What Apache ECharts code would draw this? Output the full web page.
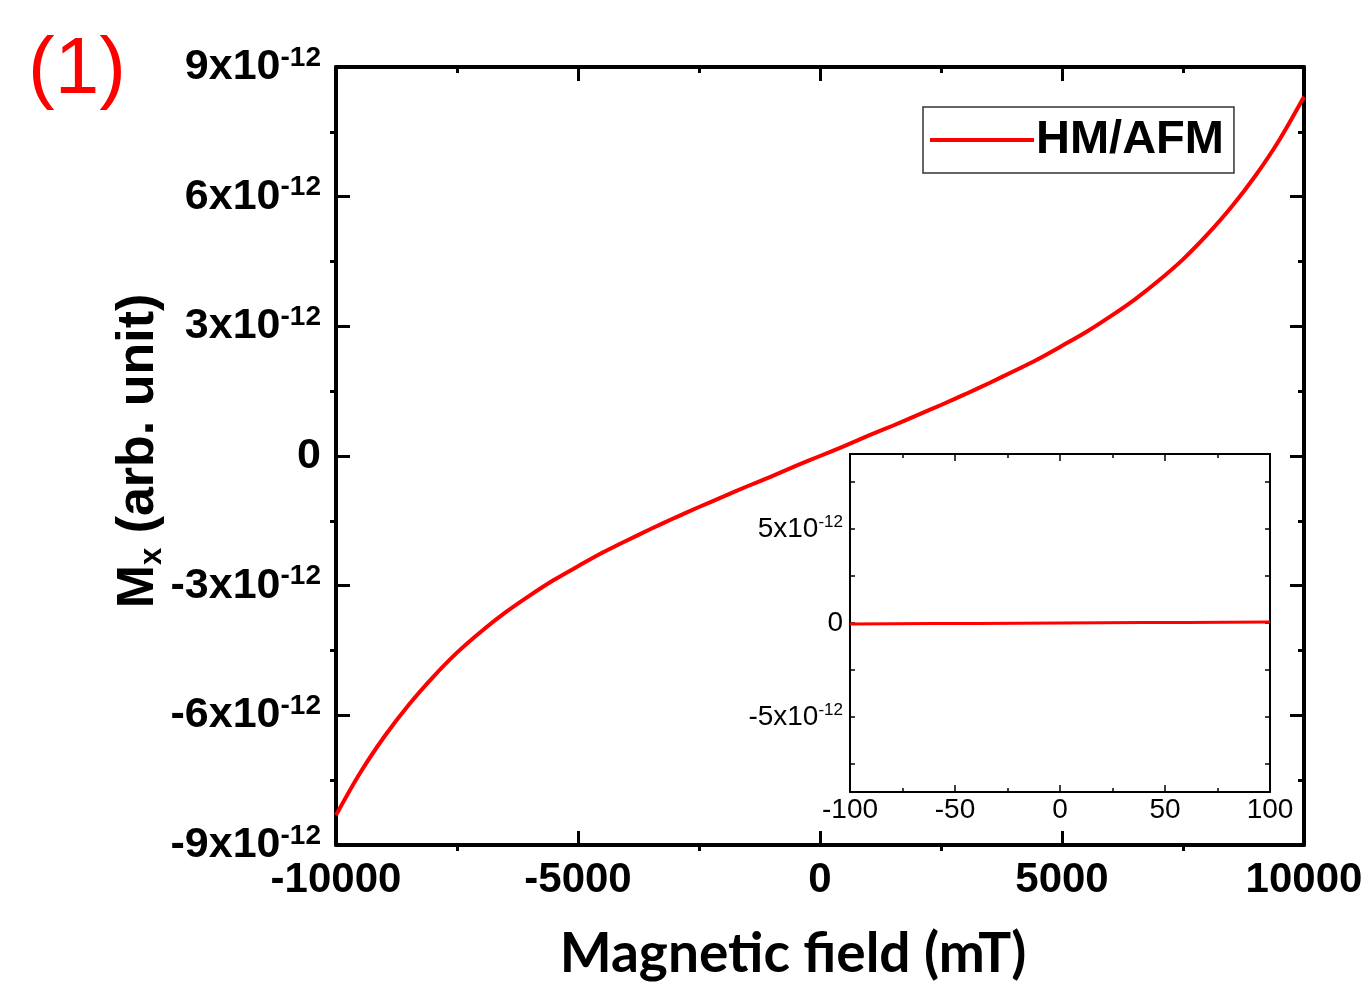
<!DOCTYPE html>
<html>
<head>
<meta charset="utf-8">
<script src="https://cdn.jsdelivr.net/npm/echarts@6/dist/echarts.min.js"></script>
<style>
  html, body { margin: 0; padding: 0; background: #fff; }
  #chart { width: 1363px; height: 984px; }
</style>
</head>
<body>
<div id="chart"></div>
<script>
// Magnetic field sweep (mT) and M_x response, in units of 1e-12 (arb. unit)
const fieldMT = [-10000, -9500, -9000, -8500, -8000, -7500, -7000, -6500, -6000, -5500,
  -5000, -4500, -4000, -3500, -3000, -2500, -2000, -1500, -1000, -500, 0,
  500, 1000, 1500, 2000, 2500, 3000, 3500, 4000, 4500, 5000,
  5500, 6000, 6500, 7000, 7500, 8000, 8500, 9000, 9500, 10000];
const mxMain = [-8.31, -7.33, -6.49, -5.76, -5.12, -4.55, -4.06, -3.62, -3.23, -2.87,
  -2.55, -2.24, -1.96, -1.69, -1.43, -1.18, -0.94, -0.70, -0.47, -0.23, 0,
  0.23, 0.47, 0.70, 0.94, 1.18, 1.43, 1.69, 1.96, 2.24, 2.55,
  2.87, 3.23, 3.62, 4.06, 4.55, 5.12, 5.76, 6.49, 7.33, 8.31];

// Low-field zoom (inset)
const fieldLow = [-100, -80, -60, -40, -20, 0, 20, 40, 60, 80, 100];
const mxLow = [-0.05, -0.04, -0.03, -0.02, -0.01, 0, 0.01, 0.02, 0.03, 0.04, 0.05];

const seriesName = 'HM/AFM';
const insetYLabels = [-5, 0, 5];
const insetYTicks = [-7.5, -5, -2.5, 0, 2.5, 5, 7.5];

const ARIAL = '"Liberation Sans", Arial, sans-serif';
const RED = '#ff0000';

const pair = (xs, ys) => xs.map((x, i) => [x, ys[i]]);
const plain = (v) => String(v);

function sciLabel(v) {
  if (v === 0) return '{b|0}';
  return '{b|' + v + 'x10}{s|-12}';
}

const mainRich = {
  b: { fontFamily: ARIAL, fontWeight: 'bold', fontSize: 43, lineHeight: 46, color: '#000' },
  s: { fontFamily: ARIAL, fontWeight: 'bold', fontSize: 28, lineHeight: 27, verticalAlign: 'top', color: '#000' }
};
const insetRich = {
  b: { fontFamily: ARIAL, fontSize: 28, lineHeight: 30, color: '#000' },
  s: { fontFamily: ARIAL, fontSize: 17, lineHeight: 17, verticalAlign: 'top', color: '#000' }
};

const axisLineMain = { show: true, onZero: false, lineStyle: { color: '#000', width: 4 } };
const axisLineInset = { show: true, onZero: false, lineStyle: { color: '#000', width: 2 } };

const option = {
  backgroundColor: '#fff',
  animation: false,
  graphic: [{
    type: 'text', left: 28, top: 31,
    style: { text: '(1)', fill: RED, font: '80px ' + ARIAL }
  }],
  legend: {
    data: [seriesName],
    left: 923, top: 107,
    orient: 'horizontal',
    icon: 'rect',
    itemWidth: 104, itemHeight: 4,
    padding: [8, 10, 8, 7],
    borderColor: '#333', borderWidth: 1.5,
    backgroundColor: '#fff',
    textStyle: { fontFamily: ARIAL, fontWeight: 'bold', fontSize: 47, lineHeight: 50, color: '#000', padding: [0, 0, 0, -3] }
  },
  grid: [
    { left: 336, top: 67, right: 59, bottom: 139, containLabel: false, outerBoundsMode: 'none' },
    { left: 850, top: 454, width: 420, height: 338, containLabel: false, outerBoundsMode: 'none',
      show: true, backgroundColor: '#fff', borderWidth: 0 }
  ],
  xAxis: [
    { // main bottom: labels + inward major ticks
      type: 'value', gridIndex: 0, position: 'bottom', min: -10000, max: 10000, interval: 5000,
      axisLine: axisLineMain,
      axisTick: { show: true, inside: true, length: 14, lineStyle: { color: '#000', width: 3 } },
      axisLabel: { margin: 14, formatter: plain, fontFamily: ARIAL, fontWeight: 'bold', fontSize: 42, color: '#000' },
      splitLine: { show: false },
      name: 'Magnetic field (mT)', nameLocation: 'middle', nameGap: 82, nameMoveOverlap: false,
      nameTextStyle: { fontFamily: 'Lato, "Open Sans", sans-serif', fontWeight: 'bold', fontSize: 55, color: '#000', padding: [0, 54, 0, 0] }
    },
    { // main bottom: outward minor ticks
      type: 'value', gridIndex: 0, position: 'bottom', min: -10000, max: 10000, interval: 5000,
      axisLine: { show: false, onZero: false },
      axisTick: { show: true, inside: false, length: 0 },
      minorTick: { show: true, splitNumber: 2, length: 6, lineStyle: { color: '#000', width: 3 } },
      axisLabel: { show: false }, splitLine: { show: false }
    },
    { // main top
      type: 'value', gridIndex: 0, position: 'top', min: -10000, max: 10000, interval: 5000,
      axisLine: axisLineMain,
      axisTick: { show: true, inside: true, length: 14, lineStyle: { color: '#000', width: 3 } },
      minorTick: { show: true, splitNumber: 2, length: 6, lineStyle: { color: '#000', width: 3 } },
      axisLabel: { show: false }, splitLine: { show: false }
    },
    { // inset bottom
      type: 'value', gridIndex: 1, position: 'bottom', min: -100, max: 100, interval: 50,
      axisLine: axisLineInset,
      axisTick: { show: true, inside: true, length: 7, lineStyle: { color: '#000', width: 1.5 } },
      minorTick: { show: true, splitNumber: 2, length: 4, lineStyle: { color: '#000', width: 1.5 } },
      axisLabel: { margin: 4, formatter: plain, fontFamily: ARIAL, fontSize: 28, color: '#000' },
      splitLine: { show: false }
    },
    { // inset top
      type: 'value', gridIndex: 1, position: 'top', min: -100, max: 100, interval: 50,
      axisLine: axisLineInset,
      axisTick: { show: true, inside: true, length: 7, lineStyle: { color: '#000', width: 1.5 } },
      minorTick: { show: true, splitNumber: 2, length: 4, lineStyle: { color: '#000', width: 1.5 } },
      axisLabel: { show: false }, splitLine: { show: false }
    }
  ],
  yAxis: [
    { // main left: labels + inward major ticks
      type: 'value', gridIndex: 0, position: 'left', min: -9, max: 9, interval: 3,
      axisLine: axisLineMain,
      axisTick: { show: true, inside: true, length: 14, lineStyle: { color: '#000', width: 3 } },
      axisLabel: { margin: 15, formatter: sciLabel, rich: mainRich },
      splitLine: { show: false },
      name: '{m|M}{x|x}{r| (arb. unit)}', nameLocation: 'middle', nameGap: 168, nameRotate: 90,
      nameMoveOverlap: false,
      nameTextStyle: {
        padding: [0, 0, 0, 10],
        rich: {
          m: { fontFamily: ARIAL, fontWeight: 'bold', fontSize: 52, lineHeight: 58, color: '#000' },
          x: { fontFamily: ARIAL, fontWeight: 'bold', fontSize: 31, lineHeight: 31, verticalAlign: 'bottom', color: '#000' },
          r: { fontFamily: ARIAL, fontWeight: 'bold', fontSize: 52, lineHeight: 58, color: '#000' }
        }
      }
    },
    { // main left: outward minor ticks
      type: 'value', gridIndex: 0, position: 'left', min: -9, max: 9, interval: 3,
      axisLine: { show: false, onZero: false },
      axisTick: { show: true, inside: false, length: 0 },
      minorTick: { show: true, splitNumber: 2, length: 6, lineStyle: { color: '#000', width: 3 } },
      axisLabel: { show: false }, splitLine: { show: false }
    },
    { // main right
      type: 'value', gridIndex: 0, position: 'right', min: -9, max: 9, interval: 3,
      axisLine: axisLineMain,
      axisTick: { show: true, inside: true, length: 14, lineStyle: { color: '#000', width: 3 } },
      minorTick: { show: true, splitNumber: 2, length: 6, lineStyle: { color: '#000', width: 3 } },
      axisLabel: { show: false }, splitLine: { show: false }
    },
    { // inset left
      type: 'value', gridIndex: 1, position: 'left', min: -9, max: 9,
      axisLine: axisLineInset,
      axisTick: { show: true, inside: true, length: 5, customValues: insetYTicks, lineStyle: { color: '#000', width: 1.5 } },
      axisLabel: { margin: 7, customValues: insetYLabels, formatter: sciLabel, rich: insetRich },
      splitLine: { show: false }
    },
    { // inset right
      type: 'value', gridIndex: 1, position: 'right', min: -9, max: 9,
      axisLine: axisLineInset,
      axisTick: { show: true, inside: true, length: 5, customValues: insetYTicks, lineStyle: { color: '#000', width: 1.5 } },
      axisLabel: { show: false }, splitLine: { show: false }
    }
  ],
  series: [
    {
      name: seriesName, type: 'line', xAxisIndex: 0, yAxisIndex: 0,
      data: pair(fieldMT, mxMain),
      showSymbol: false, symbol: 'none', smooth: 0.3,
      lineStyle: { color: RED, width: 4 }, itemStyle: { color: RED }
    },
    {
      name: seriesName + ' (low field)', type: 'line', xAxisIndex: 3, yAxisIndex: 3,
      data: pair(fieldLow, mxLow),
      showSymbol: false, symbol: 'none',
      lineStyle: { color: RED, width: 3 }, itemStyle: { color: RED }
    }
  ]
};

const chart = echarts.init(document.getElementById('chart'), null, { renderer: 'canvas' });
chart.setOption(option);
</script>
</body>
</html>
